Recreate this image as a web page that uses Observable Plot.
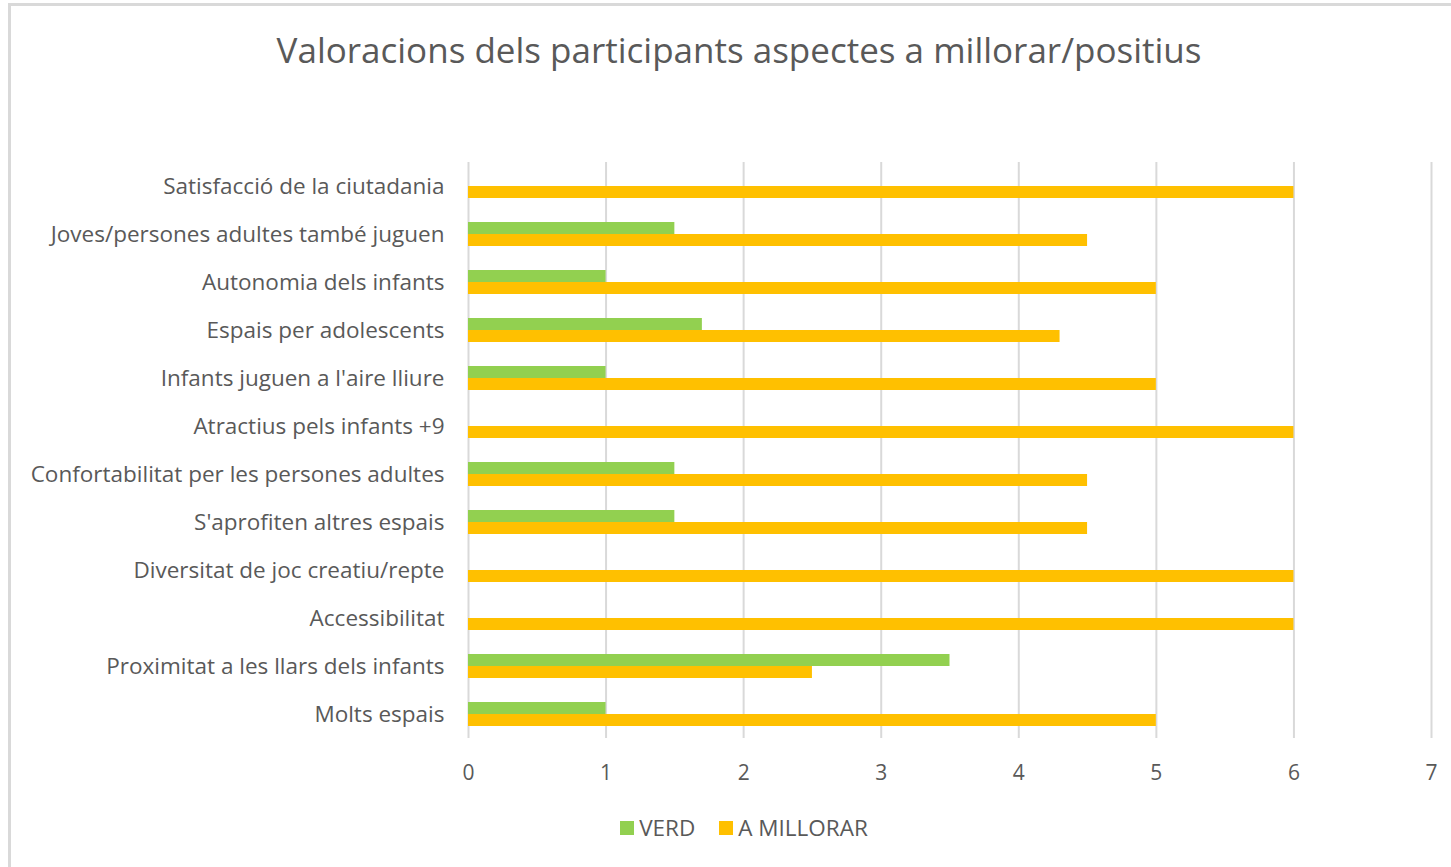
<!DOCTYPE html>
<html><head><meta charset="utf-8">
<script src="https://cdn.jsdelivr.net/npm/d3@7"></script>
<script src="https://cdn.jsdelivr.net/npm/@observablehq/plot@0.6"></script>
<style>
body{margin:0;background:#fff;font-family:"Open Sans",sans-serif;overflow:hidden}
#frame{position:absolute;left:8px;top:3px;width:1460px;height:880px;border:3px solid #d9d9d9;box-sizing:border-box}
#title{position:absolute;left:0;width:1478px;top:26px;text-align:center;font-size:35px;color:#595959;white-space:nowrap}
#chart{position:absolute;left:0;top:0}
#legend{position:absolute;left:0;width:1488px;top:812px;display:flex;justify-content:center;align-items:center;font-size:22.5px;color:#595959;gap:24px}
.item{display:flex;align-items:center;gap:5px}
.sw{width:14px;height:14px;display:inline-block}
g[aria-label="x-axis tick label"]{font-size:21px}
</style></head>
<body>
<div id="frame"></div>
<div id="chart"></div>
<div id="title">Valoracions dels participants aspectes a millorar/positius</div>
<div id="legend"></div>
<script>
const categories = [
  "Satisfacció de la ciutadania",
  "Joves/persones adultes també juguen",
  "Autonomia dels infants",
  "Espais per adolescents",
  "Infants juguen a l'aire lliure",
  "Atractius pels infants +9",
  "Confortabilitat per les persones adultes",
  "S'aprofiten altres espais",
  "Diversitat de joc creatiu/repte",
  "Accessibilitat",
  "Proximitat a les llars dels infants",
  "Molts espais"
];
const verd =     [0, 1.5, 1, 1.7, 1, 0, 1.5, 1.5, 0, 0, 3.5, 1];
const millorar = [6, 4.5, 5, 4.3, 5, 6, 4.5, 4.5, 6, 6, 2.5, 5];
const series = ["VERD", "A MILLORAR"];
const colors = ["#92D050", "#FFC000"];
const xTicks = [0, 1, 2, 3, 4, 5, 6, 7];

const data = categories.flatMap((c, i) => [
  {category: c, series: series[0], value: verd[i]},
  {category: c, series: series[1], value: millorar[i]}
]);

const chart = Plot.plot({
  width: 1451, height: 867,
  marginTop: 160, marginBottom: 127, marginLeft: 468, marginRight: 20,
  style: {fontFamily: "Open Sans", fontSize: "22.5px", color: "#595959", background: "transparent", overflow: "visible"},
  x: {domain: [0, 7], label: null},
  fy: {domain: categories, padding: 0, axis: "left", tickSize: 0, tickPadding: 24, label: null},
  y: {domain: series, axis: null, paddingInner: 0, paddingOuter: 0.93},
  color: {domain: series, range: colors},
  marks: [
    Plot.gridX(xTicks, {stroke: "#d9d9d9", strokeOpacity: 1, strokeWidth: 2}),
    Plot.barX(data, {fy: "category", y: "series", x: "value", fill: "series"}),
    Plot.axisX({ticks: xTicks, tickSize: 0, tickPadding: 27, fontSize: 21, tickFormat: d => d, label: null, facetAnchor: "bottom"})
  ]
});
document.getElementById("chart").appendChild(chart);

const legend = document.getElementById("legend");
series.forEach((s, i) => {
  const it = document.createElement("div");
  it.className = "item";
  const sw = document.createElement("span");
  sw.className = "sw";
  sw.style.background = colors[i];
  const t = document.createElement("span");
  t.textContent = s;
  it.appendChild(sw); it.appendChild(t);
  legend.appendChild(it);
});
</script>
</body></html>
